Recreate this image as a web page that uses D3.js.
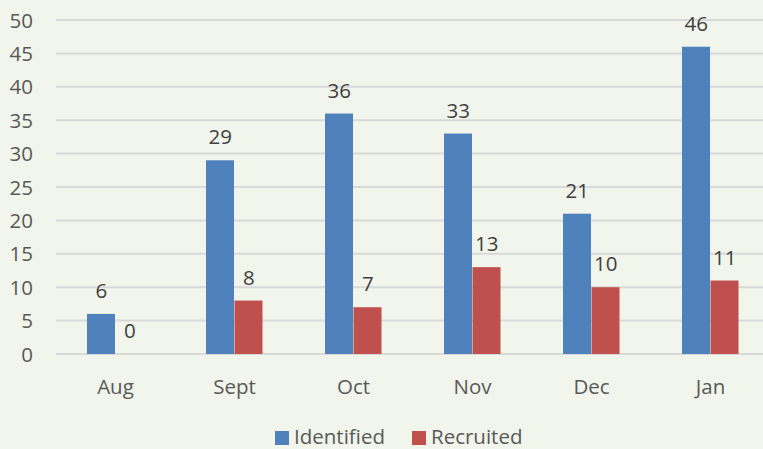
<!DOCTYPE html>
<html>
<head>
<meta charset="UTF-8" />
<title>Identified vs Recruited</title>
<script src="https://d3js.org/d3.v7.min.js"></script>
<style>
  body { margin: 0; background: #f1f5eb; }
  svg { display: block; font-family: "Open Sans", Lato, sans-serif; }
</style>
</head>
<body>
<svg id="chart" width="763" height="449"></svg>
<script>
// data
var months = ["Aug", "Sept", "Oct", "Nov", "Dec", "Jan"]
var identified = [6, 29, 36, 33, 21, 46]
var recruited = [0, 8, 7, 13, 10, 11]
var yTicks = [0, 5, 10, 15, 20, 25, 30, 35, 40, 45, 50]
var seriesNames = ["Identified", "Recruited"]
var colors = ["#4f81bd", "#c0504d"]
var fs = 20.5

var svg = d3.select("#chart")
svg.append("rect").attr("width", 763).attr("height", 449).attr("fill", "#f1f5eb")

var x = d3.scaleBand().domain(months).range([56, 770])
var y = d3.scaleLinear().domain([0, 50]).range([354, 20])
var sub = d3.scaleBand().domain(seriesNames).range([0, 57])

// gridlines
svg.append("g").selectAll("line").data(yTicks).enter().append("line")
  .attr("x1", 56).attr("x2", 763)
  .attr("y1", d => y(d)).attr("y2", d => y(d))
  .attr("stroke", "#d9d9d9").attr("stroke-width", 2)

// y labels
svg.append("g").selectAll("text").data(yTicks).enter().append("text")
  .attr("x", 33).attr("y", d => y(d) + 7.5)
  .attr("text-anchor", "end").attr("font-size", fs).attr("fill", "#595959")
  .text(d => d)

// x labels
svg.append("g").selectAll("text").data(months).enter().append("text")
  .attr("x", d => x(d) + x.bandwidth() / 2).attr("y", 394)
  .attr("text-anchor", "middle").attr("font-size", fs).attr("fill", "#595959")
  .text(d => d)

var series = [identified, recruited]
series.forEach(function(vals, s) {
  var g = svg.append("g")
  var rows = months.map((m, i) => ({ m: m, v: vals[i] }))
  var gx = d => x(d.m) + x.bandwidth() / 2 - 28.5 + sub(seriesNames[s])
  g.selectAll("rect").data(rows).enter().append("rect")
    .attr("x", gx).attr("width", sub.bandwidth() - 0.5)
    .attr("y", d => y(d.v)).attr("height", d => y(0) - y(d.v))
    .attr("fill", colors[s])
  g.selectAll("text").data(rows).enter().append("text")
    .attr("x", d => gx(d) + sub.bandwidth() / 2).attr("y", d => y(d.v) - 16)
    .attr("text-anchor", "middle").attr("font-size", fs).attr("fill", "#404040")
    .text(d => d.v)
})

// legend
var legendX = [275, 412]
seriesNames.forEach(function(n, i) {
  svg.append("rect").attr("x", legendX[i]).attr("y", 431).attr("width", 14).attr("height", 14).attr("fill", colors[i])
  svg.append("text").attr("x", legendX[i] + 19).attr("y", 444)
    .attr("font-size", fs).attr("fill", "#595959").text(n)
})
</script>
</body>
</html>
